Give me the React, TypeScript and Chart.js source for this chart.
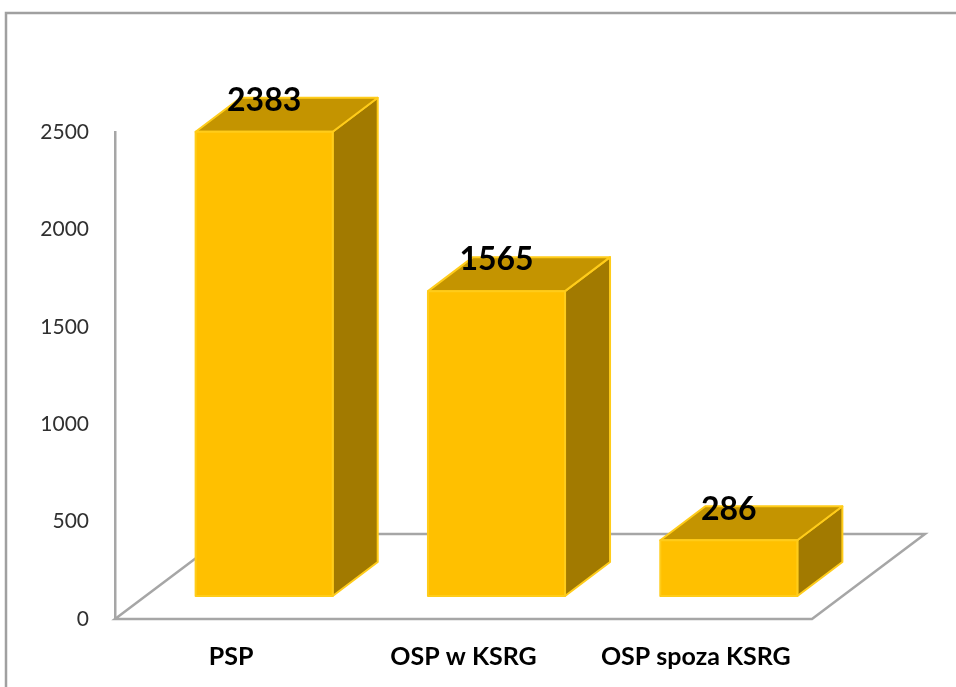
import React, { useEffect, useRef } from "react";
import { Chart, registerables } from "chart.js";

Chart.register(...registerables);

const categories: string[] = ["PSP", "OSP w KSRG", "OSP spoza KSRG"];
const values: number[] = [2383, 1565, 286];
const yTicks: number[] = [0, 500, 1000, 1500, 2000, 2500];

const FRONT = "#FFC000";
const TOP = "#C49400";
const SIDE = "#A27A00";
const EDGE = "#FFCC1A";
const FLOOR_LINE = "#A6A6A6";

const threeD = {
  id: "threeD",
  beforeDraw(chart: any) {
    const ctx = chart.ctx;
    ctx.save();
    ctx.fillStyle = "#ffffff";
    ctx.fillRect(0, 0, chart.width, chart.height);
    ctx.strokeStyle = "#A0A0A0";
    ctx.lineWidth = 2.5;
    ctx.beginPath();
    ctx.moveTo(6, chart.height + 5);
    ctx.lineTo(6, 13);
    ctx.lineTo(chart.width + 5, 13);
    ctx.stroke();
    ctx.restore();
  },
  beforeDatasetsDraw(chart: any) {
    const ctx = chart.ctx;
    const a = chart.chartArea;
    const y0 = chart.scales.y.getPixelForValue(0);
    const fdx = 113;
    const fdy = -85;
    ctx.save();
    ctx.fillStyle = "#ffffff";
    ctx.strokeStyle = FLOOR_LINE;
    ctx.lineWidth = 2.5;
    ctx.lineJoin = "miter";
    ctx.beginPath();
    ctx.moveTo(a.left, y0);
    ctx.lineTo(a.right, y0);
    ctx.lineTo(a.right + fdx, y0 + fdy);
    ctx.lineTo(a.left + fdx, y0 + fdy);
    ctx.closePath();
    ctx.fill();
    ctx.stroke();
    ctx.restore();
  },
  afterDatasetsDraw(chart: any) {
    const ctx = chart.ctx;
    const meta = chart.getDatasetMeta(0);
    const offX = 33;
    const offY = -23;
    const dx = 45;
    const dy = -34;
    ctx.save();
    ctx.lineWidth = 2;
    ctx.lineJoin = "round";
    ctx.strokeStyle = EDGE;
    meta.data.forEach((el: any, i: number) => {
      const p = el.getProps(["x", "y", "base", "width"], true);
      const x1 = p.x - p.width / 2 + offX;
      const x2 = p.x + p.width / 2 + offX;
      const yt = p.y + offY;
      const yb = p.base + offY;
      // side
      ctx.fillStyle = SIDE;
      ctx.beginPath();
      ctx.moveTo(x2, yt);
      ctx.lineTo(x2 + dx, yt + dy);
      ctx.lineTo(x2 + dx, yb + dy);
      ctx.lineTo(x2, yb);
      ctx.closePath();
      ctx.fill();
      ctx.stroke();
      // top
      ctx.fillStyle = TOP;
      ctx.beginPath();
      ctx.moveTo(x1, yt);
      ctx.lineTo(x2, yt);
      ctx.lineTo(x2 + dx, yt + dy);
      ctx.lineTo(x1 + dx, yt + dy);
      ctx.closePath();
      ctx.fill();
      ctx.stroke();
      // front
      ctx.fillStyle = FRONT;
      ctx.beginPath();
      ctx.rect(x1, yt, x2 - x1, yb - yt);
      ctx.fill();
      ctx.stroke();
      // label
      ctx.fillStyle = "#000000";
      ctx.font = "bold 32px Lato";
      ctx.textAlign = "center";
      ctx.textBaseline = "middle";
      ctx.fillText(String(values[i]), (x1 + x2) / 2, yt - 31);
    });
    ctx.restore();
  },
};

export default function App() {
  const ref = useRef<HTMLCanvasElement | null>(null);
  useEffect(() => {
    if (!ref.current) return;
    const chart = new Chart(ref.current, {
      type: "bar",
      data: {
        labels: categories,
        datasets: [
          {
            data: values,
            backgroundColor: "rgba(0,0,0,0)",
            borderWidth: 0,
            categoryPercentage: 1,
            barPercentage: 0.59,
          },
        ],
      },
      options: {
        responsive: false,
        animation: false,
        layout: { padding: { left: 0, right: 144, top: 132, bottom: 0 } },
        plugins: {
          legend: { display: false },
          tooltip: { enabled: false },
        },
        scales: {
          x: {
            grid: { display: false, drawTicks: false },
            border: { display: false },
            ticks: {
              color: "#000000",
              font: { family: "Lato", size: 25, weight: "bold" },
              padding: 23,
              maxRotation: 0,
            },
            afterFit: (s: any) => {
              s.height = 68;
            },
          },
          y: {
            min: 0,
            max: 2500,
            afterBuildTicks: (s: any) => {
              s.ticks = yTicks.map((v) => ({ value: v }));
            },
            grid: { display: false, drawTicks: false },
            border: { display: true, color: FLOOR_LINE, width: 2.5 },
            ticks: {
              color: "#303030",
              font: { family: "Lato", size: 21 },
              padding: 26,
              callback: (v: any) => String(v),
            },
            afterFit: (s: any) => {
              s.width = 115;
            },
          },
        },
      },
      plugins: [threeD],
    });
    return () => chart.destroy();
  }, []);
  return (
    <div style={{ position: "fixed", left: 0, top: 0, width: 956, height: 687, background: "#fff" }}>
      <canvas ref={ref} width={956} height={687} style={{ display: "block" }} />
    </div>
  );
}
